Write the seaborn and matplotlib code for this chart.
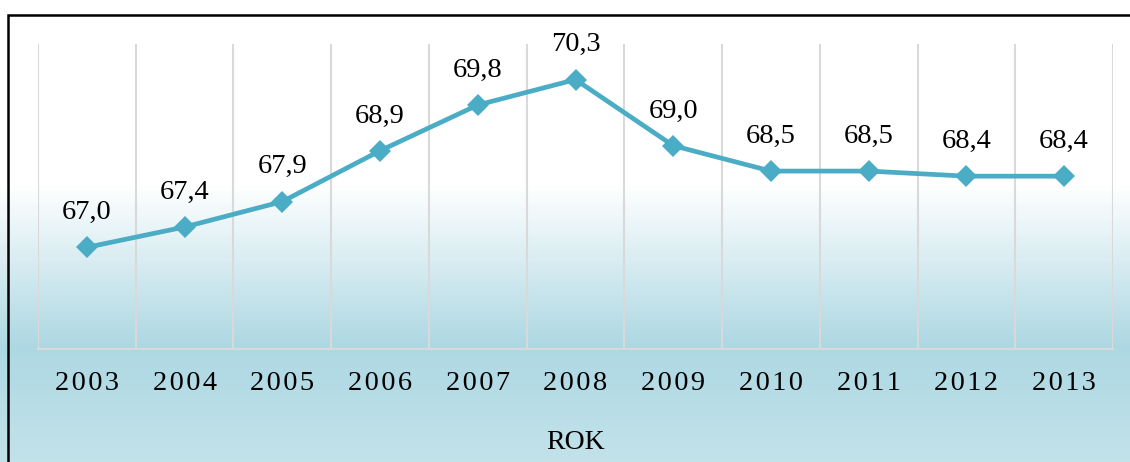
import numpy as np
import pandas as pd
import matplotlib
matplotlib.use("Agg")
import matplotlib.pyplot as plt
import seaborn as sns
from matplotlib.colors import LinearSegmentedColormap
from matplotlib.patches import Rectangle

# Data
roky = ["2003", "2004", "2005", "2006", "2007", "2008", "2009", "2010", "2011", "2012", "2013"]
hodnoty = [67.0, 67.4, 67.9, 68.9, 69.8, 70.3, 69.0, 68.5, 68.5, 68.4, 68.4]

df = pd.DataFrame({"rok": roky, "hodnota": hodnoty})

sns.set_style("white")
plt.rcParams['font.family'] = ['Liberation Serif', 'DejaVu Serif']

fig = plt.figure(figsize=(11.3, 4.62), dpi=100)

# Gradient pozadí (bílá -> světle modrá)
bg = fig.add_axes([0, 0, 1, 1], zorder=-10)
cmap = LinearSegmentedColormap.from_list(
    "bg", [(0.0, "#ffffff"), (0.40, "#ffffff"), (0.75, "#add8e3"), (1.0, "#c2e2ea")])
grad = np.linspace(0, 1, 462).reshape(-1, 1)
bg.imshow(grad, aspect="auto", cmap=cmap, extent=[0, 1, 0, 1], origin="upper")
bg.set_axis_off()
# Rámeček (levá a horní hrana)
fig.patches.append(Rectangle((8 / 1130, -0.1), 1.2, 1 - 15 / 462 + 0.1,
                             transform=fig.transFigure, fill=False,
                             edgecolor="black", linewidth=1.8, zorder=5))

ax = fig.add_axes([38 / 1130, 1 - 349 / 462, (1113 - 38) / 1130, (349 - 44) / 462])
ax.patch.set_alpha(0)

x = np.arange(len(roky))
sns.lineplot(x=x, y=df["hodnota"], ax=ax, color="#4bacc6", linewidth=3.4,
             marker="D", markersize=11.5, markeredgewidth=0, zorder=3)

for xi, v in zip(x, hodnoty):
    ax.annotate(f"{v:.1f}".replace(".", ","), (xi, v), xytext=(0, 25),
                textcoords="offset points", ha="center", va="center",
                fontsize=20.5, color="black")

ax.set_xlim(-0.5, len(roky) - 0.5)
ax.set_ylim(65, 71)
ax.set_yticks([])
ax.set_xticks(x)
ax.set_xticklabels(["\u200a".join(r) for r in roky], fontsize=20.5, color="black")
ax.set_xticks(np.arange(-0.5, len(roky)), minor=True)
ax.grid(which="minor", axis="x", color="#d9d9d9", linewidth=1.5)
ax.tick_params(axis="x", which="both", length=0, pad=16)
ax.set_xlabel("ROK", fontsize=20, labelpad=24, color="black")
ax.set_ylabel("")

for s in ["left", "right", "top"]:
    ax.spines[s].set_visible(False)
ax.spines["bottom"].set_color("#d9d9d9")
ax.spines["bottom"].set_linewidth(1.5)

fig.savefig("out.png", dpi=100)
